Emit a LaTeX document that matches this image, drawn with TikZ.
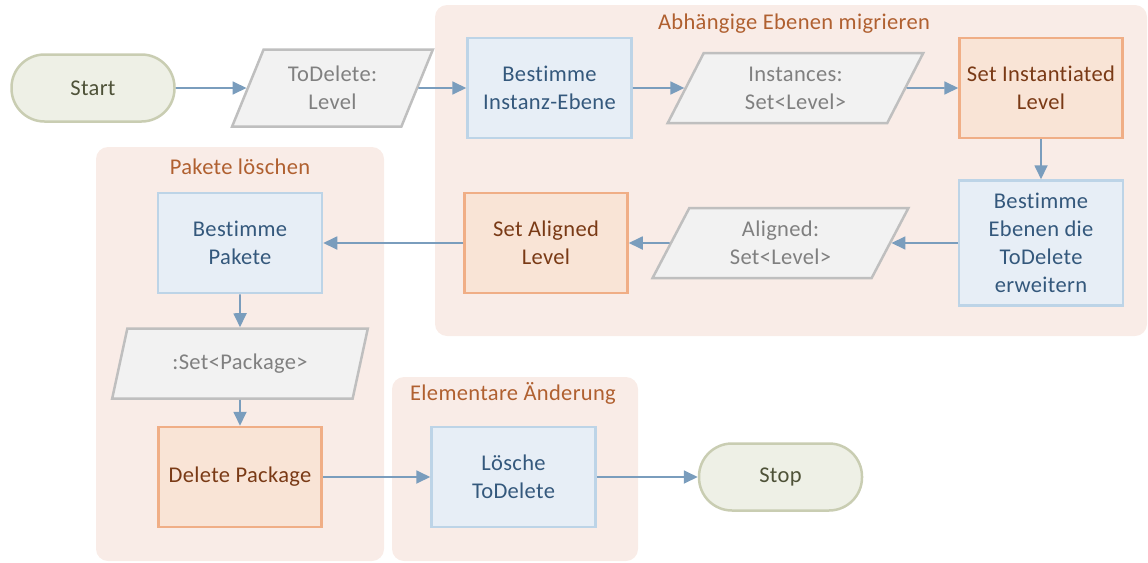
\documentclass[tikz,border=0pt]{standalone}
\usepackage{fontspec}
\setmainfont{Carlito}[Ligatures=NoCommon, LetterSpace=1.5]
\usetikzlibrary{arrows.meta,shapes.geometric}

\definecolor{grpfill}{RGB}{249,236,231}
\definecolor{grptext}{RGB}{176,96,48}
\definecolor{procfill}{RGB}{231,238,246}
\definecolor{procdraw}{RGB}{189,212,231}
\definecolor{proctext}{RGB}{52,88,124}
\definecolor{actfill}{RGB}{249,228,214}
\definecolor{actdraw}{RGB}{240,174,134}
\definecolor{acttext}{RGB}{122,58,22}
\definecolor{datafill}{RGB}{242,242,242}
\definecolor{datadraw}{RGB}{191,191,191}
\definecolor{datatext}{RGB}{128,128,128}
\definecolor{termfill}{RGB}{238,240,230}
\definecolor{termdraw}{RGB}{201,205,178}
\definecolor{termtext}{RGB}{78,82,56}
\definecolor{flowcol}{RGB}{122,157,189}

\begin{document}
\begin{tikzpicture}[x=1pt,y=-1pt,
  every node/.style={font=\fontsize{22.5}{28}\selectfont, align=center, inner sep=0pt},
  group/.style={fill=grpfill, draw=none, rounded corners=12pt},
  grouptitle/.style={text=grptext},
  procbox/.style={rectangle, fill=procfill, draw=procdraw, line width=2.5pt,
    text=proctext, minimum width=164pt, minimum height=100pt},
  actbox/.style={rectangle, fill=actfill, draw=actdraw, line width=2.5pt,
    text=acttext, minimum width=163pt, minimum height=100pt},
  databox/.style={trapezium, trapezium left angle=65, trapezium right angle=115,
    trapezium stretches=true, fill=datafill, draw=datadraw, line width=2.5pt,
    text=datatext, minimum height=70pt, minimum width=256pt},
  termbox/.style={rectangle, rounded corners=33pt, fill=termfill, draw=termdraw,
    line width=2.5pt, text=termtext, minimum width=163pt, minimum height=67pt},
  flow/.style={draw=flowcol, line width=1.8pt, -{Triangle[length=14pt,width=13pt]}}
]
\useasboundingbox (0,0) rectangle (1148,562);

% group backgrounds
\path[group] (435,5) rectangle (1147,336);
\path[group] (96,147) rectangle (384,561);
\path[group] (392,377) rectangle (638,561);

\node[grouptitle] (gtitle1) at (794,24) {Abhängige Ebenen migrieren};
\node[grouptitle] (gtitle2) at (240,167) {Pakete löschen};
\node[grouptitle] (gtitle3) at (513,393) {Elementare Änderung};

% first row
\node[termbox] (start) at (93,88) {Start};
\node[databox, minimum width=201pt, minimum height=77pt] (todel) at (332.5,88) {ToDelete:\\Level};
\node[procbox] (instanz) at (549.5,88) {Bestimme\\Instanz-Ebene};
\node[databox] (instances) at (795.5,88) {Instances:\\Set<Level>};
\node[actbox] (setinst) at (1041,88) {Set Instantiated\\Level};

% second row
\node[procbox, minimum height=125pt] (ebenen) at (1041,243) {Bestimme\\Ebenen die\\ToDelete\\erweitern};
\node[databox] (aligned) at (780.5,243) {Aligned:\\Set<Level>};
\node[actbox] (setaligned) at (546,243) {Set Aligned\\Level};
\node[procbox] (pakete) at (240,243) {Bestimme\\Pakete};

% package column and last row
\node[databox] (setpkg) at (240,363.5) {:Set<Package>};
\node[actbox] (delpkg) at (240,477) {Delete Package};
\node[procbox] (loesche) at (513.5,477) {Lösche\\ToDelete};
\node[termbox] (stop) at (780.5,477) {Stop};

% connectors
\draw[flow] (start.east) -- (todel.west);
\draw[flow] (todel.east) -- (instanz.west);
\draw[flow] (instanz.east) -- (instances.west);
\draw[flow] (instances.east) -- (setinst.west);
\draw[flow] (setinst.south) -- (ebenen.north);
\draw[flow] (ebenen.west) -- (aligned.east);
\draw[flow] (aligned.west) -- (setaligned.east);
\draw[flow] (setaligned.west) -- (pakete.east);
\draw[flow] (pakete.south) -- (setpkg.north);
\draw[flow] (setpkg.south) -- (delpkg.north);
\draw[flow] (delpkg.east) -- (loesche.west);
\draw[flow] (loesche.east) -- (stop.west);
\end{tikzpicture}
\end{document}
